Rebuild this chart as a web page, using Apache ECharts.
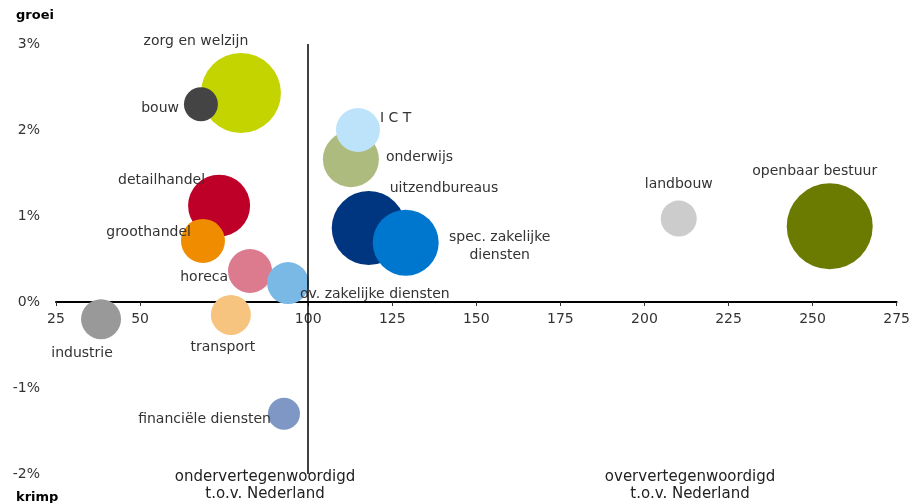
<!DOCTYPE html>
<html>
<head>
<meta charset="utf-8">
<script src="https://cdn.jsdelivr.net/npm/echarts@6/dist/echarts.min.js"></script>
<style>
  html, body { margin: 0; padding: 0; background: #fff; }
  #main { width: 913px; height: 503px; }
</style>
</head>
<body>
<div id="main"></div>
<script>
// sectoren (tekenvolgorde: later = bovenop)
const sectoren = ['zorg en welzijn', 'bouw', 'detailhandel', 'groothandel', 'horeca',
  'ov. zakelijke diensten', 'industrie', 'transport', 'onderwijs', 'ICT',
  'uitzendbureaus', 'spec. zakelijke diensten', 'landbouw', 'openbaar bestuur', 'financiële diensten'];
// index t.o.v. Nederland (=100)
const index = [80.0, 68.1, 73.5, 68.7, 82.7, 94.0, 38.4, 77.0, 112.7, 114.8, 118.0, 129.0, 210.2, 255.1, 92.8];
// groei in %
const groei = [2.43, 2.30, 1.12, 0.71, 0.36, 0.22, -0.20, -0.15, 1.66, 2.00, 0.86, 0.69, 0.97, 0.88, -1.30];
// omvang (bepaalt bolgrootte)
const omvang = [400, 72, 240, 121, 121, 110, 100, 100, 196, 121, 342, 272, 81, 462, 64];
const xTicks = [25, 50, 75, 100, 125, 150, 175, 200, 225, 250, 275];
const yTicks = [-2, -1, 0, 1, 2, 3];

// kleuren en labelplaatsing
const kleuren = {
  'zorg en welzijn': '#c4d400', 'bouw': '#444444', 'detailhandel': '#be0028', 'groothandel': '#f08c00',
  'horeca': '#dc7b8e', 'ov. zakelijke diensten': '#7ab8e6', 'industrie': '#999999', 'transport': '#f6c47e',
  'onderwijs': '#aebb7f', 'ICT': '#bde3fa', 'uitzendbureaus': '#003580', 'spec. zakelijke diensten': '#0077cf',
  'landbouw': '#cccccc', 'openbaar bestuur': '#6b7a00', 'financiële diensten': '#7e97c4'
};
const labels = {
  'zorg en welzijn': { position: 'top', offset: [-45, 0] },
  'bouw': { position: 'left', offset: [0, 4] },
  'detailhandel': { position: 'left', offset: [22, -25] },
  'groothandel': { position: 'left', offset: [15, -9] },
  'horeca': { position: 'left', offset: [5, 6] },
  'ov. zakelijke diensten': { position: 'right', offset: [-14, 11] },
  'industrie': { position: 'bottom', offset: [-19, 2] },
  'transport': { position: 'bottom', offset: [-8, 0] },
  'onderwijs': { position: 'right', offset: [2, -2] },
  'ICT': { position: 'right', offset: [-5, -12], formatter: 'I C T' },
  'uitzendbureaus': { position: 'right', offset: [-21, -40] },
  'spec. zakelijke diensten': { position: 'right', align: 'center', offset: [56, 4], formatter: 'spec. zakelijke\ndiensten', lineHeight: 18 },
  'landbouw': { position: 'top', offset: [0, -4] },
  'openbaar bestuur': { position: 'top', offset: [-15, 0] },
  'financiële diensten': { position: 'left', offset: [8, 6] }
};

const W = 913, H = 503;
const grid = { left: 56, right: 16, top: 44, bottom: 29 };
// x-as op hoogte 0%
const plotH = H - grid.top - grid.bottom;
const xOffset = -plotH * (0 - yTicks[0]) / (yTicks[yTicks.length - 1] - yTicks[0]);

const chart = echarts.init(document.getElementById('main'));

const data = sectoren.map((s, i) => ({
  name: s,
  value: [index[i], groei[i], omvang[i]],
  itemStyle: { color: kleuren[s], opacity: 1 },
  label: Object.assign({ show: true, formatter: s, distance: 5 }, labels[s])
}));

const option = {
  animation: false,
  grid: grid,
  textStyle: { fontFamily: 'DejaVu Sans' },
  xAxis: {
    type: 'value', min: xTicks[0], max: xTicks[xTicks.length - 1], interval: 25,
    position: 'bottom', offset: xOffset,
    axisLine: { onZero: false, lineStyle: { color: '#000', width: 2 } },
    axisTick: { show: true, length: 4, lineStyle: { color: '#333' } },
    axisLabel: { color: '#333', fontSize: 14, margin: 10, fontFamily: 'DejaVu Sans' },
    splitLine: { show: false }
  },
  yAxis: {
    type: 'value', min: yTicks[0], max: yTicks[yTicks.length - 1], interval: 1,
    axisLine: { show: false },
    axisTick: { show: false },
    axisLabel: { color: '#333', fontSize: 14, margin: 16, formatter: '{value}%', fontFamily: 'DejaVu Sans' },
    splitLine: { show: false }
  },
  graphic: [
    { type: 'text', left: 16, top: 9, style: { text: 'groei', font: 'bold 13px "DejaVu Sans"', fill: '#000' } },
    { type: 'text', left: 16, top: 491, style: { text: 'krimp', font: 'bold 13px "DejaVu Sans"', fill: '#000' } },
    { type: 'text', x: 265, y: 469, style: { text: 'ondervertegenwoordigd\nt.o.v. Nederland', align: 'center', font: '15px "DejaVu Sans"', lineHeight: 17, fill: '#222' } },
    { type: 'text', x: 690, y: 469, style: { text: 'oververtegenwoordigd\nt.o.v. Nederland', align: 'center', font: '15px "DejaVu Sans"', lineHeight: 17, fill: '#222' } }
  ],
  series: [{
    type: 'scatter',
    data: data,
    symbolSize: v => 4 * Math.sqrt(v[2]),
    label: { color: '#333', fontSize: 14, fontFamily: 'DejaVu Sans' },
    emphasis: { disabled: true },
    markLine: {
      silent: true, symbol: 'none', label: { show: false },
      lineStyle: { color: '#000', width: 1.5, type: 'solid' },
      data: [{ xAxis: 100 }]
    }
  }]
};

option && chart.setOption(option);
</script>
</body>
</html>
